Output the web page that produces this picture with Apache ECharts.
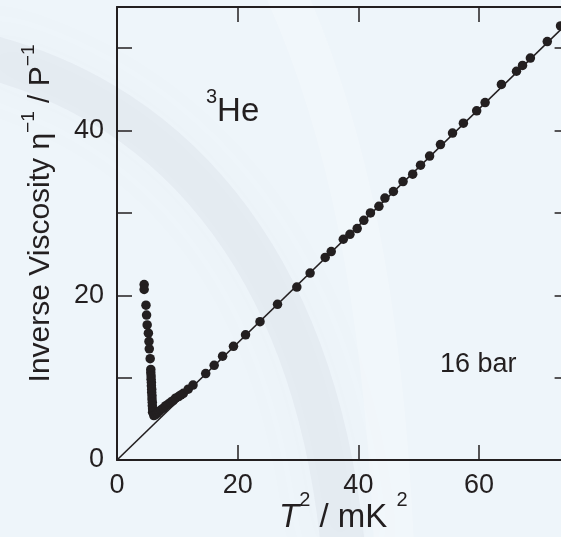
<!DOCTYPE html>
<html>
<head>
<meta charset="utf-8">
<script src="https://cdn.jsdelivr.net/npm/echarts@6/dist/echarts.min.js"></script>
<style>
html,body{margin:0;padding:0;background:#eef5fa;}
#chart{width:561px;height:537px;}
</style>
</head>
<body>
<div id="chart"></div>
<script>
// ---- data ----
// low-temperature branch (vertical rise)
const riseX = [4.5, 4.5, 4.8, 4.9, 5.0, 5.2, 5.3, 5.35, 5.5, 5.6, 5.6, 5.65, 5.65, 5.7, 5.7, 5.75, 5.75, 5.8, 5.8, 5.85, 5.85, 5.9, 5.9];
const riseY = [21.3, 20.7, 18.8, 17.6, 16.4, 15.4, 14.4, 13.5, 12.3, 11.0, 10.6, 10.2, 9.8, 9.4, 9.0, 8.6, 8.2, 7.8, 7.4, 7.0, 6.6, 6.2, 5.8];
// Fermi-liquid branch (along the line)
const fermiX = [6.1, 6.4, 6.7, 7.0, 7.3, 7.7, 8.1, 8.5, 8.9, 9.3, 9.7, 10.2, 10.6, 11.0, 11.8, 12.6, 14.7, 16.1, 17.5, 19.3, 21.3, 23.7, 26.6, 29.8, 32.0, 34.5, 35.5, 37.5, 38.6, 39.8, 40.9, 42.0, 43.4, 44.4, 45.8, 47.4, 49.0, 50.3, 51.8, 53.6, 55.6, 57.4, 59.6, 61.0, 63.7, 66.2, 67.2, 68.5, 71.3, 73.5];
const fermiY = [5.4, 5.5, 5.7, 5.9, 6.1, 6.3, 6.6, 6.8, 7.0, 7.2, 7.5, 7.7, 7.9, 8.1, 8.6, 9.1, 10.5, 11.5, 12.6, 13.8, 15.2, 16.8, 18.9, 21.0, 22.7, 24.6, 25.3, 26.8, 27.4, 28.1, 29.1, 30.0, 30.8, 31.8, 32.6, 33.8, 34.7, 35.8, 36.9, 38.3, 39.7, 40.9, 42.4, 43.4, 45.6, 47.2, 47.9, 48.8, 50.8, 52.7];
// fitted straight line through the origin
const fitX = [0, 75];
const fitY = [0, 53.3];
// axes
const xRange = [0, 75];
const yRange = [0, 55];
const xTickStep = 20;
const yTickStep = 10;
const yLabelStep = 20;
const annotations = ['3', 'He', '16 bar'];

const ink = '#231f20';
const font = '"Liberation Sans", Arial, Helvetica, sans-serif';

const zip = (xs, ys) => xs.map((x, i) => [x, ys[i]]);
const points = zip(riseX, riseY).concat(zip(fermiX, fermiY));

const chart = echarts.init(document.getElementById('chart'), null, {renderer: 'canvas'});

const axisLineStyle = {show: true, onZero: false, lineStyle: {color: ink, width: 2}};
const tickStyle = {show: true, inside: true, length: 15, lineStyle: {color: ink, width: 1.5}};

const xRich = {
  m: {fontSize: 33, fontFamily: font, color: ink, lineHeight: 56},
  i: {fontSize: 33, fontFamily: font, color: ink, lineHeight: 56, fontStyle: 'italic'},
  s: {fontSize: 20, fontFamily: font, color: ink, lineHeight: 20, verticalAlign: 'top'}
};
const yRich = {
  m: {fontSize: 30, fontFamily: font, color: ink, lineHeight: 44},
  s: {fontSize: 19, fontFamily: font, color: ink, lineHeight: 16, verticalAlign: 'top'}
};

chart.setOption({
  backgroundColor: '#eef5fa',
  animation: false,
  grid: {left: 117, top: 7, width: 452.6, height: 453, containLabel: false, outerBoundsMode: 'none'},
  xAxis: [{
    type: 'value', min: xRange[0], max: xRange[1], interval: xTickStep, position: 'bottom',
    axisLine: axisLineStyle, axisTick: tickStyle, splitLine: {show: false},
    axisLabel: {color: ink, fontSize: 27, fontFamily: font, margin: 12,
      formatter: v => (v % xTickStep === 0 ? String(v) : '')},
    name: '{i|T}{s|2}{m| / mK }{s|2}', nameLocation: 'middle', nameGap: 30, nameMoveOverlap: false,
    nameTextStyle: {rich: xRich}
  }, {
    type: 'value', min: xRange[0], max: xRange[1], interval: xTickStep, position: 'top',
    axisLine: axisLineStyle, axisTick: tickStyle, splitLine: {show: false}, axisLabel: {show: false}
  }],
  yAxis: [{
    type: 'value', min: yRange[0], max: yRange[1], interval: yTickStep, position: 'left',
    axisLine: axisLineStyle, axisTick: tickStyle, splitLine: {show: false},
    axisLabel: {color: ink, fontSize: 27, fontFamily: font, margin: 13,
      formatter: v => (v % yLabelStep === 0 ? String(v) : '')},
    name: '{m|Inverse Viscosity η}{s|−1}{m| / P}{s|−1}', nameLocation: 'middle', nameGap: 54, nameRotate: 90,
    nameMoveOverlap: false,
    nameTextStyle: {rich: yRich, padding: [0, 0, 0, 40]}
  }, {
    type: 'value', min: yRange[0], max: yRange[1], interval: yTickStep, position: 'right',
    axisLine: axisLineStyle, axisTick: tickStyle, splitLine: {show: false}, axisLabel: {show: false}
  }],
  graphic: [
    {type: 'bezierCurve', z: -10, silent: true,
      shape: {x1: -40, y1: 50, x2: 345, y2: 570, cpx1: 160, cpy1: 90, cpx2: 320, cpy2: 250},
      style: {stroke: 'rgba(150,160,172,0.09)', lineWidth: 44, fill: null, shadowBlur: 60, shadowColor: 'rgba(150,160,172,0.35)'}},
    {type: 'bezierCurve', z: -10, silent: true,
      shape: {x1: 280, y1: -20, x2: 395, y2: 570, cpx1: 345, cpy1: 120, cpx2: 385, cpy2: 300},
      style: {stroke: 'rgba(255,255,255,0.22)', lineWidth: 40, fill: null, shadowBlur: 60, shadowColor: 'rgba(255,255,255,0.4)'}},
    {type: 'text', left: 206, top: 87, z: 10,
      style: {text: '{s|' + annotations[0] + '}{m|' + annotations[1] + '}',
        rich: {
          s: {fontSize: 20, fontFamily: font, fill: ink, lineHeight: 20, verticalAlign: 'top'},
          m: {fontSize: 33, fontFamily: font, fill: ink, lineHeight: 50}
        }}},
    {type: 'text', left: 440, top: 351, z: 10,
      style: {text: annotations[2], font: '27px ' + font, fill: ink}}
  ],
  series: [{
    type: 'line', data: zip(fitX, fitY), symbol: 'none', silent: true,
    lineStyle: {color: ink, width: 1.6}, z: 2
  }, {
    type: 'scatter', data: points, symbol: 'circle', symbolSize: 9.5,
    itemStyle: {color: ink, opacity: 1}, z: 3
  }]
});
</script>
</body>
</html>
